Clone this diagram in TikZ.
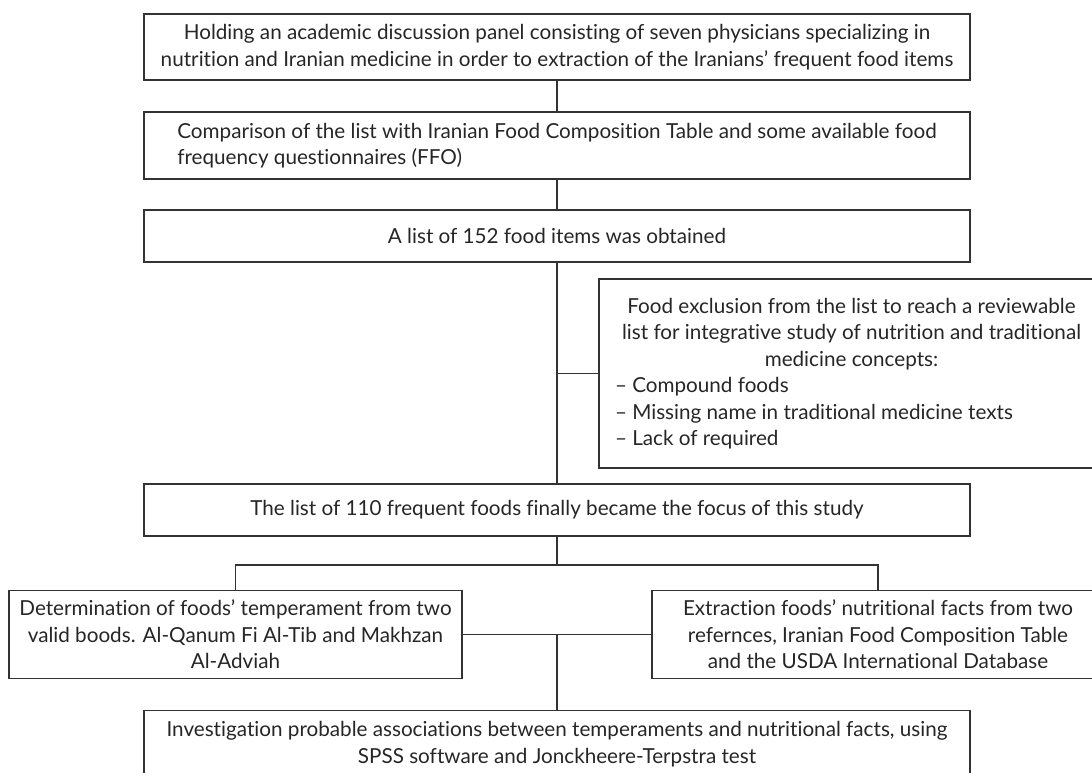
\documentclass[tikz,border=0pt]{standalone}
\usepackage{fontspec}
\setmainfont{Lato}[Ligatures=NoCommon]
\newlength\calw
\newlength\calt
\begin{document}
\setlength\calt{0pt}%
\settowidth\calw{\fontsize{10pt}{12pt}\selectfont nutrition and Iranian medicine in order to extraction of the Iranians’ frequent food items}\addtolength\calt{\calw}%
\settowidth\calw{\fontsize{10pt}{12pt}\selectfont Holding an academic discussion panel consisting of seven physicians specializing in}\addtolength\calt{\calw}%
\settowidth\calw{\fontsize{10pt}{12pt}\selectfont Determination of foods’ temperament from two}\addtolength\calt{\calw}%
\settowidth\calw{\fontsize{10pt}{12pt}\selectfont Extraction foods’ nutritional facts from two}\addtolength\calt{\calw}%
\settowidth\calw{\fontsize{10pt}{12pt}\selectfont list for integrative study of nutrition and traditional}\addtolength\calt{\calw}%
\pgfmathsetmacro\fsz{(2820/\calt)*10}%
\begin{tikzpicture}[x=1pt,y=-1pt]
\tikzset{
  box/.style={draw=black!80, line width=1.2pt, inner sep=0pt, text=black!85,
    font=\fontsize{\fsz pt}{26.5pt}\selectfont, align=center},
  link/.style={draw=black!80, line width=1.2pt}
}
\useasboundingbox (0,0) rectangle (1092,773);
\clip (0,0) rectangle (1092,773);

\node[box, minimum width=826pt, minimum height=66pt] (b1) at (557,47)
  {Holding an academic discussion panel consisting of seven physicians specializing in\\
   nutrition and Iranian medicine in order to extraction of the Iranians’ frequent food items};
\node[box, minimum width=826pt, minimum height=67pt, align=left] (b2) at (557,145.5)
  {Comparison of the list with Iranian Food Composition Table and some available food\\
   frequency questionnaires (FFO)};
\node[box, minimum width=826pt, minimum height=52pt] (b3) at (557,236)
  {A list of 152 food items was obtained};
\node[box, minimum width=505pt, minimum height=189pt] (b4) at (851.5,373.5)
  {\parbox{473pt}{%
   \hbox to\linewidth{\hss Food exclusion from the list to reach a reviewable\hss}
   \hbox to\linewidth{\hss list for integrative study of nutrition and traditional\hss}
   \hbox to\linewidth{\hss medicine concepts:\hss}
   \hbox{– Compound foods}
   \hbox{– Missing name in traditional medicine texts}
   \hbox{– Lack of required}}};
\node[box, minimum width=826pt, minimum height=52pt] (b5) at (557,510)
  {The list of 110 frequent foods finally became the focus of this study};
\node[box, minimum width=453pt, minimum height=88pt] (b6) at (235.5,634.5)
  {Determination of foods’ temperament from two\\
   valid boods. Al-Qanum Fi Al-Tib and Makhzan\\
   Al-Adviah};
\node[box, minimum width=452pt, minimum height=88pt] (b7) at (878,634.5)
  {Extraction foods’ nutritional facts from two\\
   refernces, Iranian Food Composition Table\\
   and the USDA International Database};
\node[box, minimum width=826pt, minimum height=67pt] (b8) at (557,744)
  {Investigation probable associations between temperaments and nutritional facts, using\\
   SPSS software and Jonckheere-Terpstra test};

\coordinate (split) at (557,565);
\draw[link] (b1.south) -- (b2.north);
\draw[link] (b2.south) -- (b3.north);
\draw[link] (b3.south) -- (b5.north);
\draw[link] (b4.west) -- (b4.west -| b3.south);
\draw[link] (b5.south) -- (split);
\draw[link] (b6.north) |- (split) -| (b7.north);
\draw[link] (b6.east) -- (b7.west);
\draw[link] (b6.east -| b8.north) -- (b8.north);
\end{tikzpicture}
\end{document}
